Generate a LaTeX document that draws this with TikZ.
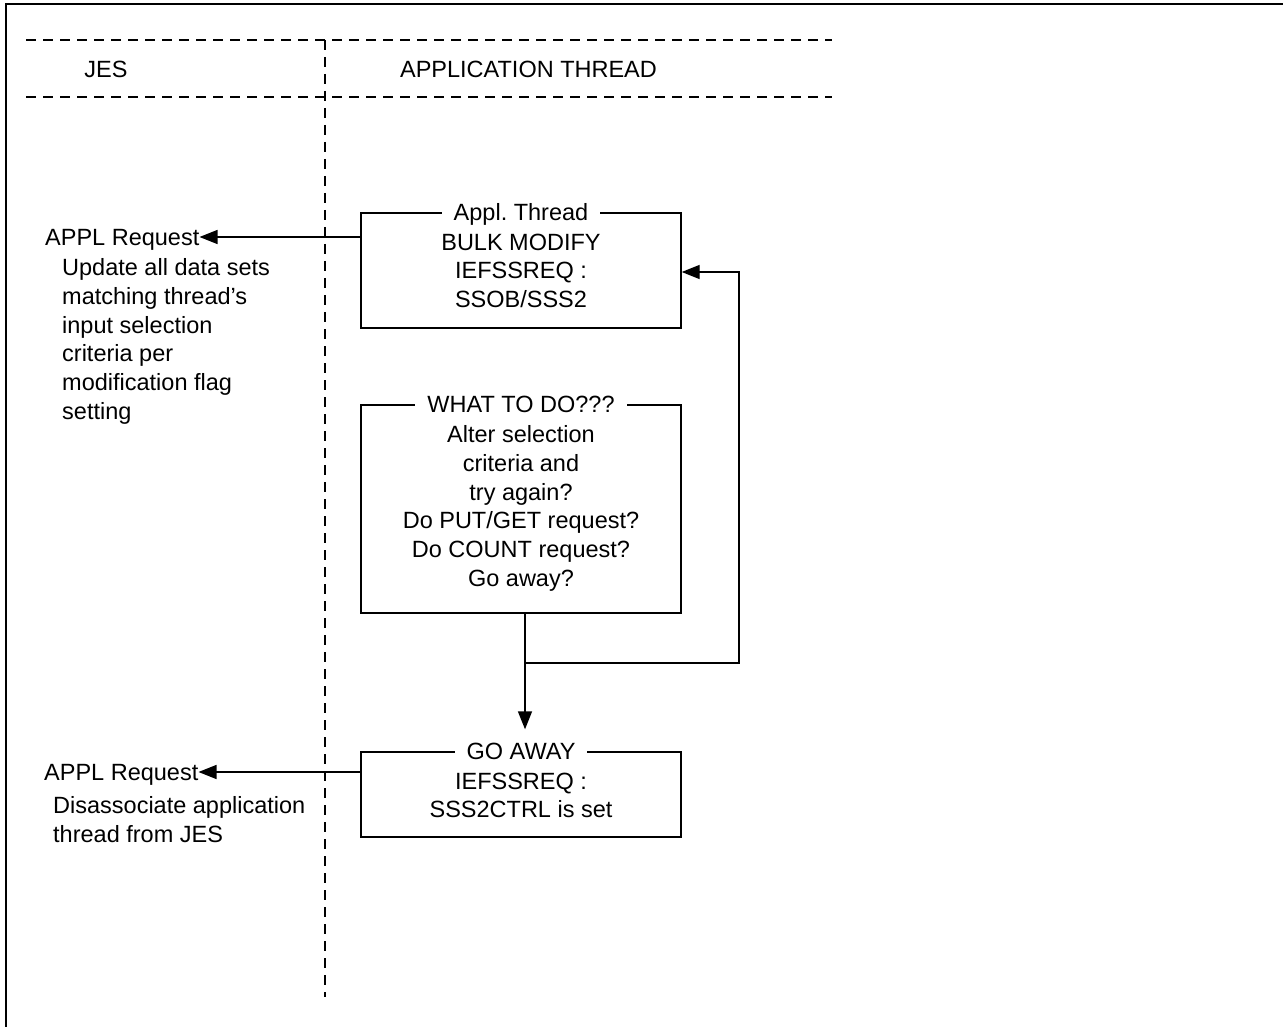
\documentclass[tikz,border=0pt]{standalone}
\usepackage{fontspec}
\setmainfont{Liberation Sans}
\usetikzlibrary{arrows.meta}
\begin{document}
\begin{tikzpicture}[x=1pt,y=-1pt,
  every node/.style={font=\fontsize{23.5}{28.7}\selectfont, inner sep=0pt},
  frameline/.style={line width=2pt},
  lane/.style={line width=1.3pt, dash pattern=on 10pt off 7pt},
  box/.style={draw, line width=1.4pt, rectangle, minimum width=320pt},
  boxtitle/.style={fill=white, inner xsep=12pt, text height=17pt, text depth=0pt},
  content/.style={align=center, anchor=north},
  label/.style={text height=17pt, text depth=0pt},
  note/.style={align=left, anchor=north west},
  arr/.style={line width=1.4pt, -{Triangle[length=18pt,width=14pt]}}]

\useasboundingbox (0,0) rectangle (1283,1027);

% outer frame (top and left edges)
\draw[frameline] (6,1027) -- (6,4) -- (1283,4);

% swim lane separators
\coordinate (hl1) at (26,40);
\coordinate (hr1) at (832,40);
\coordinate (hl2) at (26,97);
\coordinate (hr2) at (832,97);
\draw[lane] (hl1) -- (hr1);
\draw[lane] (hl2) -- (hr2);
\coordinate (vt) at (325,40);
\coordinate (vb) at (325,997);
\draw[lane] (vt) -- (vb);

% lane headings
\node[label] (jes) at (106,69) {JES};
\node[label] (app) at (528.5,69) {APPLICATION THREAD};

% boxes
\node[box, minimum height=115pt] (b1) at (521,270.5) {};
\node[boxtitle] (t1) at (b1.north) {Appl.\ Thread};
\node[content] (c1) at (521,233.6) {BULK MODIFY\\IEFSSREQ :\\SSOB/SSS2};

\node[box, minimum height=208pt] (b2) at (521,509) {};
\node[boxtitle] (t2) at (b2.north) {WHAT TO DO???};
\node[content] (c2) at (521,425.5) {Alter selection\\criteria and\\try again?\\Do PUT/GET request?\\Do COUNT request?\\Go away?};

\node[box, minimum height=85pt] (b3) at (521,794.5) {};
\node[boxtitle] (t3) at (b3.north) {GO AWAY};
\node[content] (c3) at (521,772.6) {IEFSSREQ :\\SSS2CTRL is set};

% JES side requests
\node[label, anchor=west] (r1) at (45,237) {APPL Request\hspace{3pt}};
\node[note] (n1) at (62,258.5) {Update all data sets\\matching thread's\\input selection\\criteria per\\modification flag\\setting};

\node[label, anchor=west] (r2) at (44,772) {APPL Request\hspace{4pt}};
\node[note] (n2) at (53,796.5) {Disassociate application\\thread from JES};

% connectors
\draw[arr] (b1.west |- r1) -- (r1.east);
\draw[arr] (b3.west |- r2) -- (r2.east);

\coordinate (j) at (525,663);
\coordinate (fb) at (739,272);
\draw[arr, shorten >=22pt] (b2.south -| j) -- (b3.north -| j);
\draw[arr] (j) -| (fb) -- (fb -| b1.east);

\end{tikzpicture}
\end{document}
